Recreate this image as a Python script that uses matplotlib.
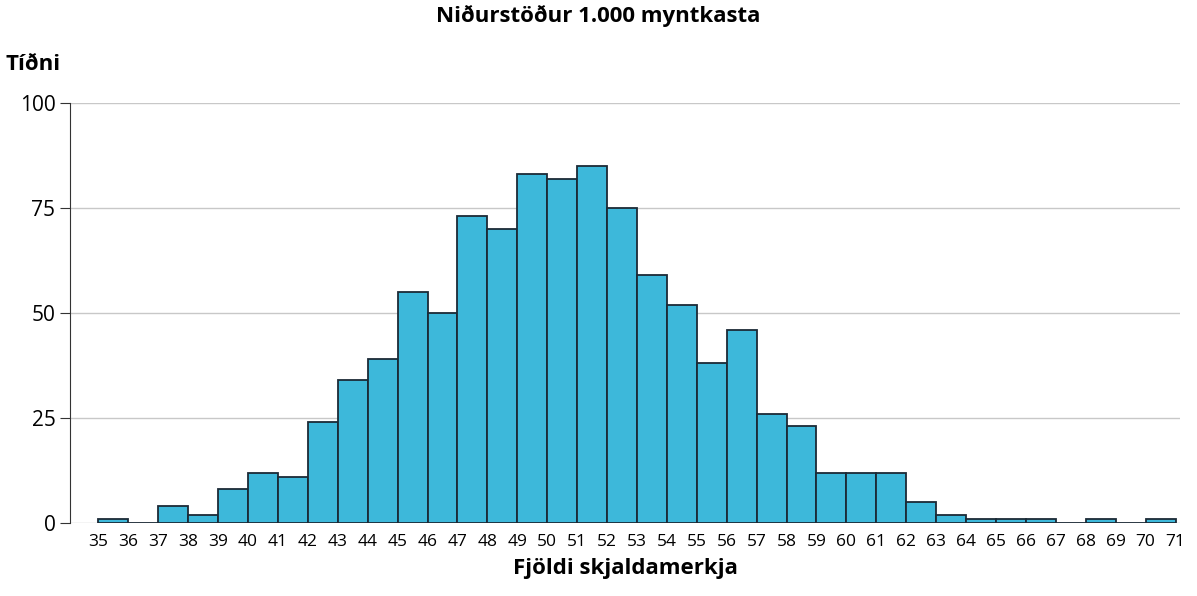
import matplotlib.pyplot as plt

plt.rcParams['font.family'] = ['Open Sans', 'DejaVu Sans']

# bin left edges and frequencies
edges = list(range(35, 72))
counts = [1, 0, 4, 2, 8, 12, 11, 24, 34, 39, 55, 50, 73, 70, 83, 82, 85, 75,
          59, 52, 38, 46, 26, 23, 12, 12, 12, 5, 2, 1, 1, 1, 0, 1, 0, 1]

fig = plt.figure(figsize=(11.97, 5.96), dpi=100)
ax = fig.add_axes([70/1197, 1-523/596, 1110/1197, 420/596])

ax.bar(edges[:-1], counts, width=1, align='edge', color='#3db8da',
       edgecolor='#1b2a36', linewidth=1.3, zorder=3)

ax.set_xlim(34.05, 71.15)
ax.set_ylim(0, 100)
ax.set_yticks([0, 25, 50, 75, 100])
ax.set_xticks(edges)
ax.tick_params(axis='y', labelsize=15, length=7, color='#333333')
ax.tick_params(axis='x', labelsize=12.5, length=0, pad=8)
ax.grid(axis='y', color='#c8c8c8', linewidth=1, zorder=0)
for s in ['top', 'right', 'bottom']:
    ax.spines[s].set_visible(False)
ax.spines['left'].set_color('#333333')

ax.set_xlabel('Fjöldi skjaldamerkja', fontsize=16, fontweight='bold', labelpad=6)
fig.text(5/1197, 1-64/596, 'Tíðni', fontsize=16, fontweight='bold', va='center')
fig.text(0.5, 1-16/596, 'Niðurstöður 1.000 myntkasta', fontsize=16,
         fontweight='bold', ha='center', va='center')

fig.savefig('out.png')
